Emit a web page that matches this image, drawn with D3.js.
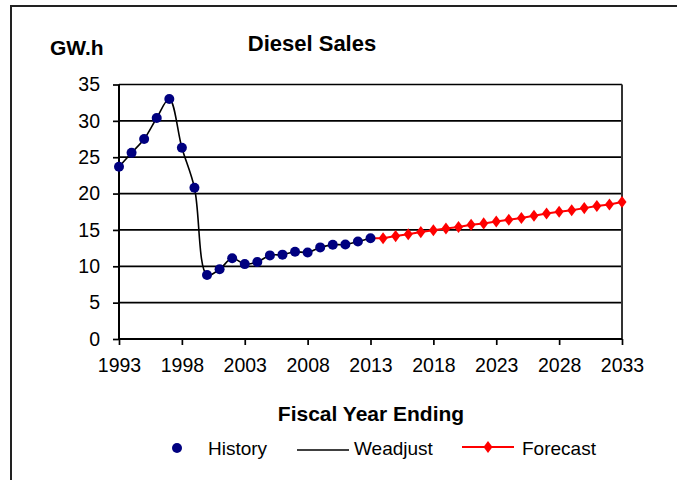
<!DOCTYPE html>
<html>
<head>
<meta charset="utf-8">
<script src="https://cdn.jsdelivr.net/npm/d3@7"></script>
<style>
  body { margin: 0; background: #fff; }
  text { font-family: Arial, "Liberation Sans", sans-serif; fill: #000; }
</style>
</head>
<body>
<svg id="chart" width="677" height="480"></svg>
<script>
// history years and values (GW.h)
const historyYears = d3.range(1993, 2014);
const historyValues = [23.7, 25.6, 27.5, 30.4, 33.0, 26.3, 20.8, 8.8, 9.6, 11.1, 10.3,
                       10.6, 11.5, 11.6, 12.0, 11.9, 12.6, 12.95, 13.0, 13.4, 13.85];

// forecast starts from last history year
const forecastYears = d3.range(2013, 2034);
const forecastValues = [13.85, 13.85, 14.15, 14.4, 14.7, 14.95, 15.2, 15.4, 15.7, 15.9, 16.15,
                        16.4, 16.65, 16.95, 17.25, 17.5, 17.7, 18.0, 18.3, 18.5, 18.85];

const xTicks = [1993, 1998, 2003, 2008, 2013, 2018, 2023, 2028, 2033];
const yTicks = [0, 5, 10, 15, 20, 25, 30, 35];

const history = historyYears.map((y, i) => ({year: y, value: historyValues[i]}));
const forecast = forecastYears.map((y, i) => ({year: y, value: forecastValues[i]}));

const svg = d3.select("#chart");

// outer chart border (runs off the right and bottom edge)
svg.append("rect")
    .attr("x", 11).attr("y", 6)
    .attr("width", 700).attr("height", 500)
    .attr("fill", "none")
    .attr("stroke", "#222")
    .attr("stroke-width", 2);

const x = d3.scaleLinear().domain([1993, 2033]).range([119, 622]);
const y = d3.scaleLinear().domain([0, 35]).range([339, 84.5]);

// gridlines
svg.append("g")
    .selectAll("line")
    .data(yTicks.filter(d => d > 0))
    .join("line")
    .attr("x1", x(1993)).attr("x2", x(2033))
    .attr("y1", d => y(d)).attr("y2", d => y(d))
    .attr("stroke", "#000")
    .attr("stroke-width", 1.7);

// right edge of plot area
svg.append("line")
    .attr("x1", x(2033)).attr("x2", x(2033))
    .attr("y1", y(35)).attr("y2", y(0))
    .attr("stroke", "#333")
    .attr("stroke-width", 2);

// y axis
const yAxis = svg.append("g")
    .attr("transform", `translate(${x(1993)},0)`)
    .call(d3.axisLeft(y).tickValues(yTicks).tickSize(6).tickPadding(13));

// x axis
const xAxis = svg.append("g")
    .attr("transform", `translate(0,${y(0)})`)
    .call(d3.axisBottom(x).tickValues(xTicks).tickFormat(d3.format("d")).tickSize(6).tickPadding(13));

[yAxis, xAxis].forEach(ax => {
    ax.select(".domain").attr("stroke", "#000").attr("stroke-width", 2);
    ax.selectAll(".tick line").attr("stroke", "#000").attr("stroke-width", 1.7);
    ax.selectAll(".tick text")
        .style("font-family", "Arial, 'Liberation Sans', sans-serif")
        .style("font-size", "19.5px")
        .attr("fill", "#000");
});
yAxis.select(".domain").attr("d", `M0,${y(0)}V${y(35)}`);
xAxis.select(".domain").attr("d", `M${x(1993)},0H${x(2033)}`);

// Weadjust smoothed line
const line = d3.line()
    .x(d => x(d.year))
    .y(d => y(d.value));

svg.append("path")
    .datum(history)
    .attr("d", line.curve(d3.curveCatmullRom.alpha(0.5)))
    .attr("fill", "none")
    .attr("stroke", "#000")
    .attr("stroke-width", 1.6);

// forecast line + diamonds
svg.append("path")
    .datum(forecast)
    .attr("d", d3.line().x(d => x(d.year)).y(d => y(d.value))(forecast))
    .attr("fill", "none")
    .attr("stroke", "#ff0000")
    .attr("stroke-width", 2);

const diamond = d3.symbol().type(d3.symbolDiamond).size(42);
svg.append("g")
    .selectAll("path")
    .data(forecast.slice(1))
    .join("path")
    .attr("d", diamond)
    .attr("transform", d => `translate(${x(d.year)},${y(d.value)}) scale(1.3,1)`)
    .attr("fill", "#ff0000");

// history dots
svg.append("g")
    .selectAll("circle")
    .data(history)
    .join("circle")
    .attr("cx", d => x(d.year))
    .attr("cy", d => y(d.value))
    .attr("r", 5)
    .attr("fill", "#000080");

// titles
svg.append("text")
    .attr("x", 312).attr("y", 51)
    .attr("text-anchor", "middle")
    .style("font-size", "22px").style("font-weight", "bold")
    .text("Diesel Sales");

svg.append("text")
    .attr("x", 50).attr("y", 55)
    .style("font-size", "21px").style("font-weight", "bold")
    .text("GW.h");

svg.append("text")
    .attr("x", 371).attr("y", 421)
    .attr("text-anchor", "middle")
    .style("font-size", "21px").style("font-weight", "bold")
    .text("Fiscal Year Ending");

// legend
const legendY = 448;
const legend = svg.append("g");
legend.append("circle")
    .attr("cx", 177).attr("cy", legendY).attr("r", 5).attr("fill", "#000080");
legend.append("text")
    .attr("x", 208).attr("y", 455)
    .style("font-size", "19px").text("History");

legend.append("line")
    .attr("x1", 297).attr("x2", 349).attr("y1", legendY + 2).attr("y2", legendY + 2)
    .attr("stroke", "#000").attr("stroke-width", 1.6);
legend.append("text")
    .attr("x", 354).attr("y", 455)
    .style("font-size", "19px").text("Weadjust");

legend.append("line")
    .attr("x1", 462).attr("x2", 514).attr("y1", legendY - 1).attr("y2", legendY - 1)
    .attr("stroke", "#ff0000").attr("stroke-width", 2);
legend.append("path")
    .attr("d", diamond)
    .attr("transform", `translate(488,${legendY - 1}) scale(1.3,1)`)
    .attr("fill", "#ff0000");
legend.append("text")
    .attr("x", 522).attr("y", 455)
    .style("font-size", "19px").text("Forecast");
</script>
</body>
</html>
